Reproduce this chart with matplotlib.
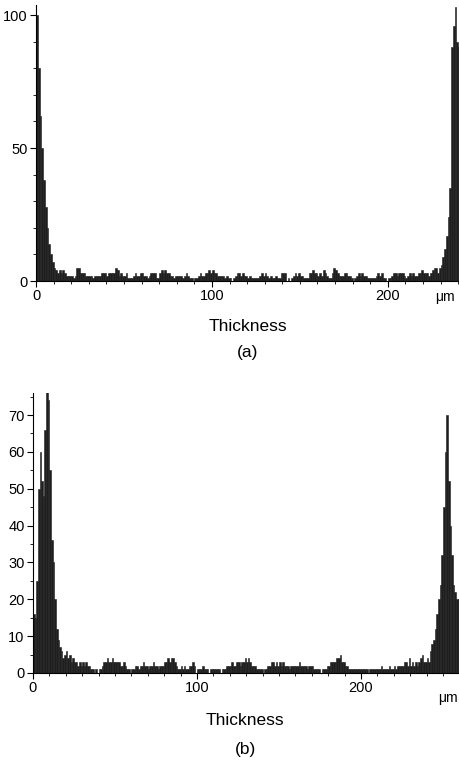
import numpy as np
import matplotlib
matplotlib.use("Agg")
import matplotlib.pyplot as plt
from matplotlib.ticker import MultipleLocator

plt.rcParams['font.family'] = ['Liberation Sans', 'DejaVu Sans']

# --- histogram counts, 1 um bins starting at 0 ---
counts_a = [
    100, 80, 62, 50, 38, 28, 20, 14, 10, 7,
    5, 4, 3, 4, 3, 4, 3, 2, 2, 2,
    2, 1, 2, 5, 5, 3, 3, 3, 2, 2,
    2, 2, 1, 2, 2, 2, 2, 3, 3, 3,
    2, 3, 3, 3, 3, 5, 4, 2, 3, 2,
    2, 3, 1, 1, 1, 2, 3, 2, 2, 3,
    3, 2, 2, 1, 2, 3, 3, 3, 1, 1,
    3, 4, 3, 4, 3, 3, 2, 2, 1, 2,
    2, 2, 2, 1, 2, 3, 2, 1, 1, 0,
    1, 1, 2, 3, 2, 2, 3, 3, 4, 3,
    4, 3, 3, 2, 2, 2, 2, 1, 2, 1,
    1, 0, 1, 2, 3, 3, 2, 3, 2, 2,
    1, 2, 1, 1, 1, 1, 1, 2, 3, 2,
    3, 2, 1, 2, 1, 1, 2, 1, 1, 3,
    3, 3, 0, 1, 0, 1, 2, 3, 2, 3,
    2, 2, 1, 1, 1, 3, 3, 4, 3, 3,
    2, 3, 2, 4, 3, 2, 1, 1, 3, 5,
    4, 3, 2, 2, 2, 3, 3, 2, 2, 1,
    0, 1, 2, 3, 2, 3, 2, 2, 1, 1,
    1, 1, 1, 2, 3, 2, 3, 1, 1, 0,
    1, 1, 2, 3, 3, 2, 3, 3, 3, 2,
    1, 2, 3, 2, 3, 2, 2, 3, 3, 4,
    3, 3, 3, 2, 3, 4, 5, 5, 3, 5,
    6, 9, 12, 17, 24, 35, 88, 96, 103, 90,
    88, 94,
]

counts_b = [
    16, 15, 25, 50, 60, 52, 48, 66, 77, 74,
    55, 36, 30, 20, 12, 9, 7, 6, 4, 5,
    6, 4, 5, 3, 4, 3, 3, 2, 3, 2,
    3, 2, 3, 2, 2, 1, 1, 0, 1, 0,
    1, 1, 2, 3, 3, 4, 3, 3, 4, 3,
    3, 3, 3, 2, 2, 3, 2, 1, 1, 0,
    1, 1, 2, 2, 1, 2, 2, 3, 2, 2,
    1, 2, 2, 3, 2, 2, 1, 2, 2, 2,
    3, 3, 4, 3, 4, 4, 3, 2, 1, 1,
    2, 1, 2, 1, 1, 2, 2, 3, 2, 0,
    1, 1, 1, 2, 1, 1, 1, 0, 1, 1,
    1, 1, 1, 1, 0, 1, 1, 1, 2, 2,
    2, 3, 2, 2, 3, 3, 2, 3, 3, 4,
    3, 4, 3, 2, 2, 2, 1, 1, 1, 1,
    0, 1, 1, 2, 2, 3, 3, 2, 3, 2,
    3, 2, 3, 2, 2, 2, 1, 2, 2, 2,
    2, 2, 3, 2, 2, 2, 2, 1, 2, 2,
    2, 1, 1, 1, 1, 0, 1, 1, 1, 2,
    2, 3, 3, 3, 3, 4, 4, 5, 3, 3,
    2, 2, 1, 1, 1, 1, 1, 1, 1, 1,
    1, 1, 1, 1, 0, 1, 1, 1, 1, 1,
    1, 1, 2, 1, 1, 1, 1, 2, 1, 1,
    2, 1, 2, 2, 2, 2, 3, 3, 2, 4,
    2, 3, 2, 3, 2, 3, 4, 5, 3, 3,
    4, 3, 6, 8, 9, 12, 16, 20, 24, 32,
    45, 60, 70, 52, 40, 32, 24, 22, 20, 20,
    20,
]

xticks = [0, 100, 200]
yticks_a = [0, 50, 100]
yticks_b = [0, 10, 20, 30, 40, 50, 60, 70]

fig = plt.figure(figsize=(4.6, 7.62), dpi=100)
ax_a = fig.add_axes([0.0783, 0.6312, 0.9217, 0.3622])
ax_b = fig.add_axes([0.0717, 0.1168, 0.9283, 0.3675])


def draw(ax, counts, xmax, ymax, yticks, yminor):
    edges = np.arange(len(counts))
    ax.bar(edges, counts, width=1.0, align='edge', color='#1e1e1e',
           edgecolor='#1e1e1e', linewidth=0.4)
    ax.set_xlim(0, xmax)
    ax.set_ylim(0, ymax)
    ax.set_xticks(xticks)
    ax.set_yticks(yticks)
    ax.xaxis.set_minor_locator(MultipleLocator(10))
    ax.yaxis.set_minor_locator(MultipleLocator(yminor))
    for s in ['top', 'right']:
        ax.spines[s].set_visible(False)
    ax.spines['left'].set_linewidth(0.8)
    ax.spines['bottom'].set_linewidth(0.8)
    ax.tick_params(which='major', direction='out', length=4, width=0.8,
                   labelsize=10.5, pad=2)
    ax.tick_params(which='minor', direction='out', length=2, width=0.6)


draw(ax_a, counts_a, 241, 103.8, yticks_a, 10)
draw(ax_b, counts_b, 260.4, 76, yticks_b, 5)

fig.text(0.968, 0.6105, "μm", ha='center', va='center', fontsize=10)
fig.text(0.539, 0.572, "Thickness", ha='center', va='center', fontsize=12.5)
fig.text(0.539, 0.537, "(a)", ha='center', va='center', fontsize=12.5)

fig.text(0.974, 0.084, "μm", ha='center', va='center', fontsize=10)
fig.text(0.533, 0.055, "Thickness", ha='center', va='center', fontsize=12.5)
fig.text(0.533, 0.017, "(b)", ha='center', va='center', fontsize=12.5)

fig.savefig("out.png", dpi=100)
